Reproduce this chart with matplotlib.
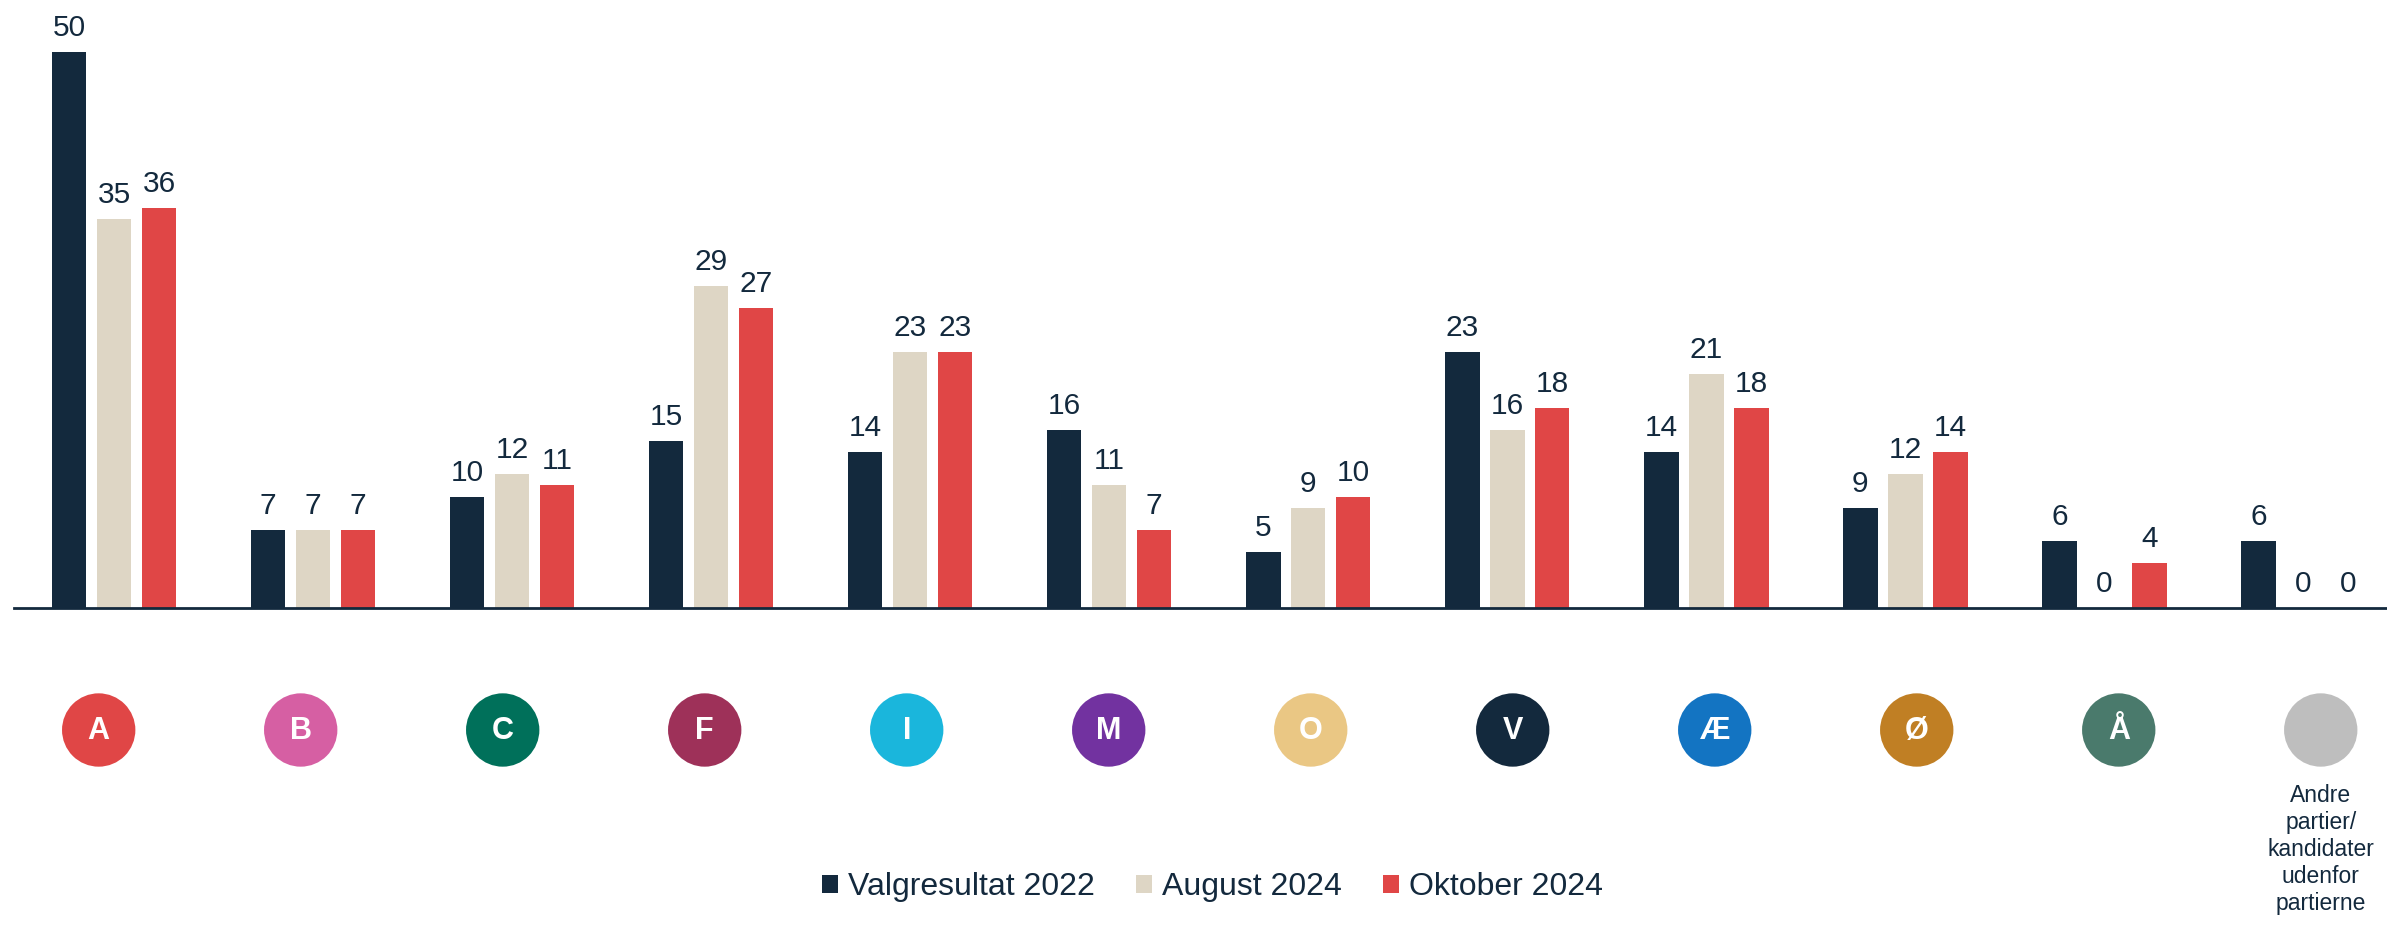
import matplotlib.pyplot as plt
import numpy as np

plt.rcParams['font.family'] = ['Liberation Sans', 'DejaVu Sans']

# data
parties = ["A", "B", "C", "F", "I", "M", "O", "V", "Æ", "Ø", "Å", ""]
party_colors = ["#e04646", "#d65fa3", "#00705a", "#9e3159", "#1ab6dc", "#7232a0",
                "#eac784", "#13293d", "#1374c2", "#c07f24", "#4a7a6c", "#bebebe"]
other_label = "Andre\npartier/\nkandidater\nudenfor\npartierne"

series_names = ["Valgresultat 2022", "August 2024", "Oktober 2024"]
series_colors = ["#13293d", "#ded6c5", "#e04646"]
valg_2022 = [50, 7, 10, 15, 14, 16, 5, 23, 14, 9, 6, 6]
aug_2024 = [35, 7, 12, 29, 23, 11, 9, 16, 21, 12, 0, 0]
okt_2024 = [36, 7, 11, 27, 23, 7, 10, 18, 18, 14, 4, 0]

navy = "#13293d"
W, H = 2387, 925
fig = plt.figure(figsize=(W / 100, H / 100), dpi=100)

# bar axes
ax = fig.add_axes([14 / W, 1 - 607.7 / H, 1 - 14 / W, 607.7 / H])
x = np.arange(len(parties))
step = 0.226
width = 0.173
for k, (vals, col, nm) in enumerate(zip([valg_2022, aug_2024, okt_2024], series_colors, series_names)):
    xs = x + (k - 1) * step
    ax.bar(xs, vals, width=width, color=col, label=nm, zorder=2)
    for xi, v in zip(xs, vals):
        ax.text(xi, v + 0.9, str(v), ha="center", va="bottom", fontsize=21.5, color=navy)

ax.set_xlim(-0.503, 11.42)
ax.set_ylim(0, 607.7 / 11.11)
for s in ["top", "right", "left"]:
    ax.spines[s].set_visible(False)
ax.spines["bottom"].set_color(navy)
ax.spines["bottom"].set_linewidth(2)
ax.set_xticks([])
ax.set_yticks([])

# party circles
cax = fig.add_axes([0, 0, 1, 1], facecolor="none")
cax.set_xlim(-0.4886, 11.328)
cax.set_ylim(0, 1)
cax.axis("off")
cy = 1 - 730 / H
cax.scatter(x, [cy] * len(x), s=2789, c=party_colors, linewidths=0, zorder=2)
for xi, p in zip(x, parties):
    cax.text(xi, cy - 0.001, p, ha="center", va="center", fontsize=22,
             fontweight="bold", color="white", zorder=3)
cax.text(x[-1], 1 - 784 / H, other_label, ha="center", va="top", fontsize=16.5,
         color=navy, linespacing=1.22)

fig.legend(loc="center", bbox_to_anchor=(0.508, 1 - 887 / H), ncol=3, frameon=False,
           fontsize=23, handlelength=0.5, handleheight=0.5, handletextpad=0.3,
           columnspacing=1.3, labelcolor=navy)

fig.savefig("out.png", dpi=100)
